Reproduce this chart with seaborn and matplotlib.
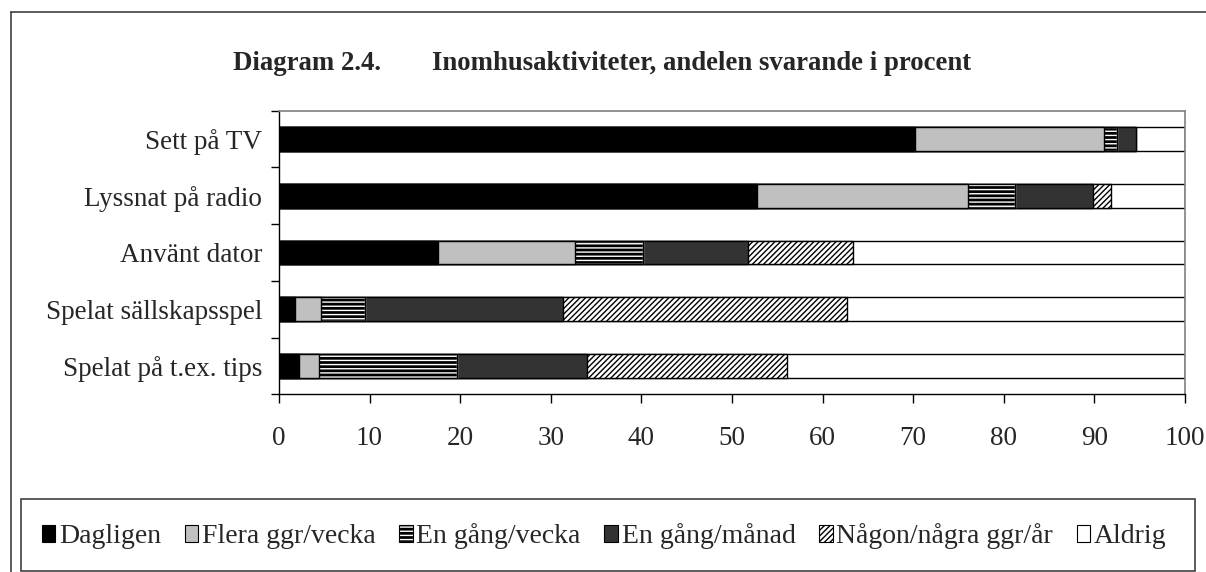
import numpy as np
import pandas as pd
import matplotlib.pyplot as plt
import seaborn as sns
from matplotlib.patches import Patch, Rectangle
from matplotlib.lines import Line2D

sns.set_style("white")
plt.rcParams['font.family'] = ['Liberation Serif', 'DejaVu Serif']
plt.rcParams['hatch.linewidth'] = 1.0

# Data (percent of respondents)
activities = ["Sett på TV", "Lyssnat på radio", "Använt dator",
              "Spelat sällskapsspel", "Spelat på t.ex. tips"]
series = ["Dagligen", "Flera ggr/vecka", "En gång/vecka",
          "En gång/månad", "Någon/några ggr/år", "Aldrig"]
dagligen = [70.2, 52.8, 17.5, 1.8, 2.2]
flera = [20.9, 23.3, 15.2, 2.8, 2.2]
vecka = [1.4, 5.1, 7.5, 4.9, 15.3]
manad = [2.1, 8.7, 11.6, 21.8, 14.3]
nagon = [0.0, 1.9, 11.6, 31.4, 22.1]
aldrig = [5.4, 8.2, 36.6, 37.3, 43.9]

df = pd.DataFrame({"Aktivitet": activities, "Dagligen": dagligen,
                   "Flera ggr/vecka": flera, "En gång/vecka": vecka,
                   "En gång/månad": manad, "Någon/några ggr/år": nagon,
                   "Aldrig": aldrig})
# cumulative right edges, stacked bars drawn from longest to shortest
cum = df[series].cumsum(axis=1)
cum["Aktivitet"] = df["Aktivitet"]

# fill, hatch colour, hatch
styles = {
    "Dagligen": ("black", "black", None),
    "Flera ggr/vecka": ("#c0c0c0", "black", None),
    "En gång/vecka": ("black", "white", "----"),
    "En gång/månad": ("#333333", "black", None),
    "Någon/några ggr/år": ("white", "black", "//////"),
    "Aldrig": ("white", "black", None),
}

W, H = 1206, 572
fig = plt.figure(figsize=(W / 100, H / 100), dpi=100)
ax = fig.add_axes([279 / W, 1 - 394.3 / H, (1185 - 279) / W, (394.3 - 110.7) / H])

bw = 0.42
for s in reversed(series):
    fc, hc, hatch = styles[s]
    sns.barplot(data=cum, x=s, y="Aktivitet", orient="h", color=fc,
                saturation=1, width=bw, edgecolor=hc, linewidth=1,
                hatch=hatch, ax=ax)
    if hc != "black":
        # black outline on top of the white-hatched segment
        sns.barplot(data=cum, x=s, y="Aktivitet", orient="h", color="black",
                    fill=False, width=bw, linewidth=1, ax=ax)

ax.set_xlim(0, 100)
ax.set_ylim(4.5, -0.5)
ax.set_xlabel("")
ax.set_ylabel("")
ax.set_xticks(np.arange(0, 101, 10))
ax.set_yticks(range(len(activities)))
ax.set_yticklabels(activities)
ax.set_yticks(np.arange(-0.5, 5, 1), minor=True)
ax.tick_params(axis="y", which="major", length=0, pad=12, labelsize=19.5)
ax.tick_params(axis="y", which="minor", left=True, length=6, width=1, color="black")
ax.tick_params(axis="x", bottom=True, length=6.5, width=1, color="black", pad=16, labelsize=19.5)
for side in ["left", "bottom"]:
    ax.spines[side].set_color("black")
    ax.spines[side].set_linewidth(1)
for side in ["top", "right"]:
    ax.spines[side].set_color("#808080")
    ax.spines[side].set_linewidth(1.2)

# title
fig.text(233 / W, 1 - 70 / H, "Diagram 2.4.", fontsize=19.3, fontweight="bold",
         ha="left", va="baseline")
fig.text(432 / W, 1 - 70 / H, "Inomhusaktiviteter, andelen svarande i procent",
         fontsize=19.3, fontweight="bold", ha="left", va="baseline")

# outer chart frame (left and top edges visible)
fig.add_artist(Line2D([10.5 / W, 10.5 / W], [0, 1 - 11.5 / H], color="#404040", lw=1.2))
fig.add_artist(Line2D([10.5 / W, 1], [1 - 11.5 / H, 1 - 11.5 / H], color="#404040", lw=1.2))

# legend box
fig.add_artist(Rectangle((21 / W, 1 - 571 / H), (1195 - 21) / W, (571 - 499) / H,
                         transform=fig.transFigure, fill=False, edgecolor="#404040", lw=1.2))
handles = []
for s in series:
    fc, hc, hatch = styles[s]
    if hc == "white":
        handles.append((Patch(facecolor=fc, edgecolor=hc, hatch=hatch, lw=0.8),
                        Patch(fill=False, edgecolor="black", lw=0.8)))
    else:
        handles.append(Patch(facecolor=fc, edgecolor="black", hatch=hatch, lw=0.8))
fig.legend(handles, series, loc="center", bbox_to_anchor=(604 / W, 1 - 536 / H),
           ncol=6, frameon=False, fontsize=20, handlelength=0.5, handleheight=0.55,
           handletextpad=0.12, columnspacing=0.85, borderaxespad=0)

fig.savefig("out.png", dpi=100)
